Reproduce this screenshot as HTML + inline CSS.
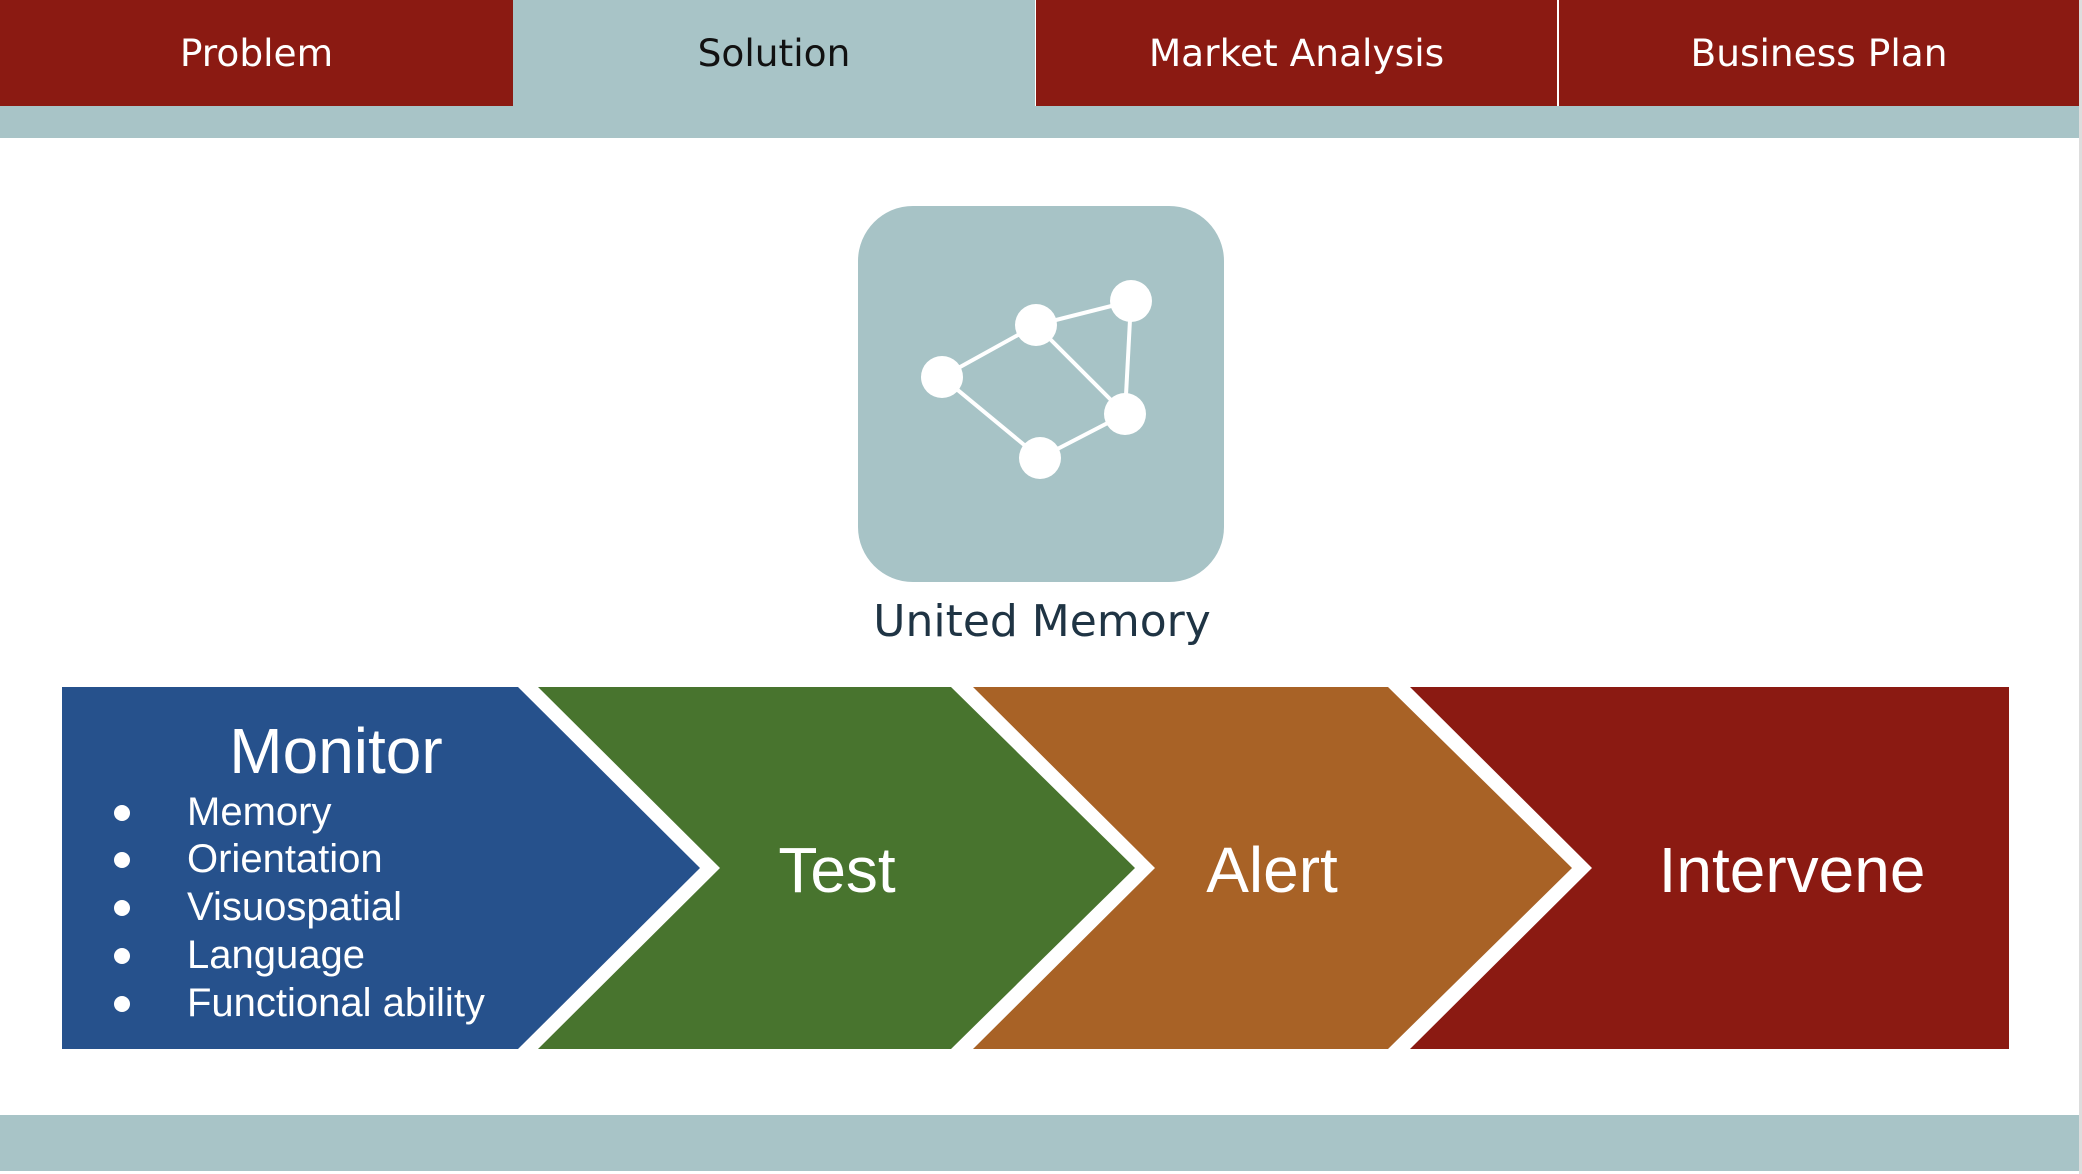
<!DOCTYPE html>
<html><head><style>
html,body{margin:0;padding:0;width:2082px;height:1174px;overflow:hidden;background:#fff;position:relative;font-family:"Liberation Sans",sans-serif}
.tab{position:absolute;top:0;height:106px;line-height:106px;text-align:center;font-family:"DejaVu Sans",sans-serif;font-size:37.5px;color:#fff;background:#8b1a12}
</style></head><body>
<div class="tab" style="left:0;width:513px">Problem</div>
<div class="tab" style="left:513px;width:522px;background:#a8c4c7;color:#111">Solution</div>
<div class="tab" style="left:1036px;width:521px">Market Analysis</div>
<div class="tab" style="left:1559px;width:520px">Business Plan</div>
<div style="position:absolute;left:0;top:106px;width:2080px;height:32px;background:#a8c4c7"></div>
<div style="position:absolute;left:0;top:1115px;width:2080px;height:56px;background:#a8c4c7"></div>
<div style="position:absolute;left:2079px;top:0;width:3px;height:1174px;background:#ddd"></div>
<svg width="2082" height="1174" style="position:absolute;left:0;top:0">
<rect x="858" y="206" width="366" height="376" rx="55" fill="#a7c3c6"/>
<g stroke="#fff" stroke-width="4" fill="none">
<polyline points="942,377 1036,325 1131,301 1125,414 1040,458 942,377"/>
<line x1="1036" y1="325" x2="1125" y2="414"/>
</g>
<g fill="#fff">
<circle cx="942" cy="377" r="21"/><circle cx="1036" cy="325" r="21"/><circle cx="1131" cy="301" r="21"/><circle cx="1125" cy="414" r="21"/><circle cx="1040" cy="458" r="21"/>
</g>
<text x="1042" y="636" text-anchor="middle" font-family="DejaVu Sans,sans-serif" font-size="44" fill="#1f3444">United Memory</text>
<polygon points="62,687 518,687 700,868 518,1049 62,1049" fill="#26518c"/>
<polygon points="538,687 951,687 1135,868 951,1049 538,1049 720,868" fill="#48742e"/>
<polygon points="973,687 1388,687 1572,868 1388,1049 973,1049 1155,868" fill="#a86226"/>
<polygon points="1410,687 2009,687 2009,1049 1410,1049 1592,868" fill="#8b1a12"/>
<g fill="#fff" font-family="Liberation Sans,sans-serif">
<text x="336" y="773" text-anchor="middle" font-size="64">Monitor</text>
<text x="837" y="892" text-anchor="middle" font-size="64">Test</text>
<text x="1272" y="892" text-anchor="middle" font-size="64">Alert</text>
<text x="1792" y="892" text-anchor="middle" font-size="64">Intervene</text>
<g font-size="40">
<text x="187" y="825">Memory</text>
<text x="187" y="872">Orientation</text>
<text x="187" y="920">Visuospatial</text>
<text x="187" y="968">Language</text>
<text x="187" y="1016">Functional ability</text>
</g>
<circle cx="122" cy="813" r="8"/><circle cx="122" cy="860" r="8"/><circle cx="122" cy="908" r="8"/><circle cx="122" cy="956" r="8"/><circle cx="122" cy="1004" r="8"/>
</g>
</svg>
</body></html>
